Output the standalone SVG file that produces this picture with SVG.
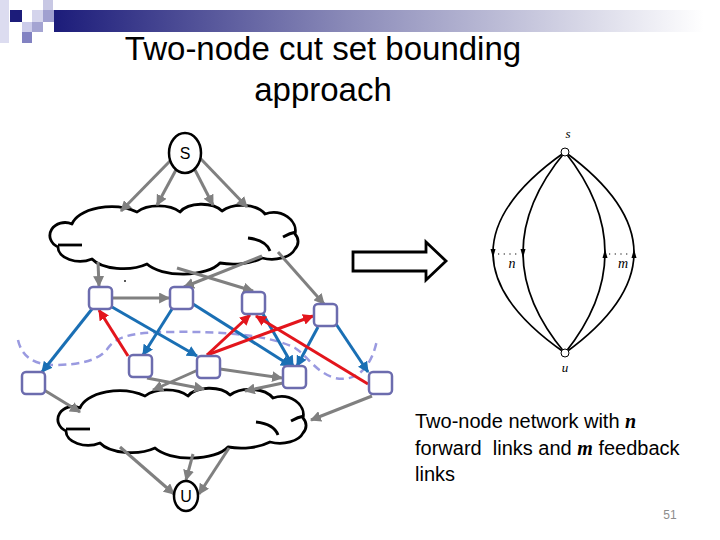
<svg xmlns="http://www.w3.org/2000/svg" width="720" height="540" viewBox="0 0 720 540">
<style>
.g{stroke:#808080;stroke-width:3;fill:none;marker-end:url(#ag)}
.b{stroke:#1a6fb4;stroke-width:3;fill:none;marker-end:url(#ab)}
.r{stroke:#e3151c;stroke-width:3;fill:none;marker-end:url(#ar)}
.sq{fill:#fff;stroke:#6c6cae;stroke-width:2.5}
.cloud{fill:#fff;stroke:#000;stroke-width:2.8;stroke-linejoin:round}
.cin{fill:none;stroke:#000;stroke-width:2.8}
.sans{font-family:"Liberation Sans",Arial,sans-serif}
.ser{font-family:"Liberation Serif","Times New Roman",serif;font-style:italic}
.thin{fill:none;stroke:#000;stroke-width:1.7}
</style>
<defs>
<linearGradient id="bar" x1="0" y1="0" x2="1" y2="0">
<stop offset="0" stop-color="#1c1c7a"/>
<stop offset="0.45" stop-color="#8a8ab8"/>
<stop offset="1" stop-color="#ffffff"/>
</linearGradient>
<marker id="ag" viewBox="0 0 10 10" refX="9" refY="5" markerWidth="11" markerHeight="11" markerUnits="userSpaceOnUse" orient="auto"><path d="M0,0 L10,5 L0,10 z" fill="#808080"/></marker>
<marker id="ab" viewBox="0 0 10 10" refX="9" refY="5" markerWidth="11" markerHeight="11" markerUnits="userSpaceOnUse" orient="auto"><path d="M0,0 L10,5 L0,10 z" fill="#1a6fb4"/></marker>
<marker id="ar" viewBox="0 0 10 10" refX="9" refY="5" markerWidth="11" markerHeight="11" markerUnits="userSpaceOnUse" orient="auto"><path d="M0,0 L10,5 L0,10 z" fill="#e3151c"/></marker>
<g id="cloudshape">
<path class="cloud" d="M 92 259 A 22 14 0 0 1 58 247 A 14 12 0 0 1 72 224 A 40 22 0 0 1 137 212 A 26 14 0 0 1 180 212 A 24 14 0 0 1 222 211 A 26 16 0 0 1 265 214 A 22 18 0 0 1 295 234 A 14 12 0 0 1 295 249 A 24 14 0 0 1 262 258 A 40 20 0 0 1 220 263 A 40 18 0 0 1 147 264 A 34 16 0 0 1 92 259 Z"/>
<path class="cin" d="M 58 245 L 82 245"/>
<path class="cin" d="M 248 238 Q 266 240 270 251"/>
<path class="cin" d="M 283 237 Q 290 233 296 232"/>
</g>
</defs>
<rect width="720" height="540" fill="#fff"/>
<rect x="0" y="0" width="9" height="43" fill="#dcdcf0"/>
<rect x="10" y="10" width="12" height="12" fill="#1c1c7a"/>
<rect x="43" y="0" width="10" height="10" fill="#c8c8e4"/>
<rect x="32" y="10" width="11" height="12" fill="#d4d4ec"/>
<rect x="43" y="10" width="11" height="12" fill="#a0a0d0"/>
<rect x="22" y="22" width="10" height="10" fill="#ccccea"/>
<rect x="32" y="22" width="11" height="10" fill="#a4a4d2"/>
<rect x="22" y="32" width="10" height="11" fill="#8282c2"/>
<rect x="54" y="10" width="650" height="22" fill="url(#bar)"/>
<text class="sans" x="323" y="60" font-size="33" text-anchor="middle" fill="#000">Two-node cut set bounding</text>
<text class="sans" x="323" y="101" font-size="33" text-anchor="middle" fill="#000">approach</text>
<use href="#cloudshape"/>
<use href="#cloudshape" transform="translate(8,184)"/>
<path d="M 18 340 C 22 358, 36 365, 55 365 C 80 365, 100 360, 108 348 C 116 336, 135 332, 170 332 C 220 331, 270 335, 295 348 C 308 356, 315 372, 335 378 C 358 383, 372 365, 377 340" fill="none" stroke="#9a9ae0" stroke-width="2.5" stroke-dasharray="8 5"/>
<circle cx="125" cy="281" r="1" fill="#222"/>
<g id="connectors">
<path class="g" d="M171 160 L121 211"/>
<path class="g" d="M177 168 L157 205"/>
<path class="g" d="M194 168 L213 205"/>
<path class="g" d="M200 158 L247 207"/>
<path class="g" d="M98 262 L99 286"/>
<path class="g" d="M262 256 L184 287"/>
<path class="g" d="M177 268 L253 291"/>
<path class="g" d="M278 252 L324 304"/>
<path class="g" d="M112 298 L169 298"/>
<path class="g" d="M44 390 L80 412"/>
<path class="g" d="M147 378 L204 389"/>
<path class="g" d="M198 370 L153 390"/>
<path class="g" d="M220 369 L282 378"/>
<path class="g" d="M283 383 L245 391"/>
<path class="g" d="M372 396 L311 420"/>
<path class="g" d="M120 447 L174 494"/>
<path class="g" d="M193 454 L186 480"/>
<path class="g" d="M229 448 L199 494"/>
<path class="b" d="M92 309 L42 372"/>
<path class="b" d="M112 307 L197 356"/>
<path class="b" d="M172 309 L143 355"/>
<path class="b" d="M193 304 L291 366"/>
<path class="b" d="M263 314 L293 366"/>
<path class="b" d="M318 327 L297 366"/>
<path class="b" d="M336 324 L368 372"/>
<path class="r" d="M128 356 L99 310"/>
<path class="r" d="M207 355 L250 315"/>
<path class="r" d="M207 355 L313 316"/>
<path class="r" d="M368 384 L256 316"/>
</g>
<g id="node-S"><ellipse cx="185" cy="153" rx="16" ry="20" fill="#fff" stroke="#000" stroke-width="2.5"/><text class="sans" x="185" y="159" font-size="16" text-anchor="middle">S</text></g>
<g id="node-U"><ellipse cx="186" cy="496" rx="12" ry="15" fill="#fff" stroke="#000" stroke-width="2.5"/><text class="sans" x="186" y="502" font-size="16" text-anchor="middle">U</text></g>
<g id="node-A"><rect class="sq" x="89" y="287" width="23" height="22" rx="4"/></g>
<g id="node-B"><rect class="sq" x="170" y="287" width="23" height="22" rx="4"/></g>
<g id="node-C"><rect class="sq" x="242" y="292" width="23" height="22" rx="4"/></g>
<g id="node-D"><rect class="sq" x="314" y="304" width="23" height="22" rx="4"/></g>
<g id="node-E"><rect class="sq" x="22" y="372" width="23" height="22" rx="4"/></g>
<g id="node-F"><rect class="sq" x="129" y="355" width="23" height="22" rx="4"/></g>
<g id="node-G"><rect class="sq" x="197" y="356" width="23" height="22" rx="4"/></g>
<g id="node-H"><rect class="sq" x="283" y="366" width="23" height="22" rx="4"/></g>
<g id="node-I"><rect class="sq" x="369" y="372" width="23" height="22" rx="4"/></g>
<path d="M353 252 L426 252 L426 242 L446 261 L426 280 L426 271 L353 271 Z" fill="#fff" stroke="#000" stroke-width="2.8" stroke-linejoin="miter"/>
<g id="two-node">
<path class="thin" d="M565 152 Q 421 253 565 353"/>
<path class="thin" d="M565 152 Q 481 253 565 353"/>
<path class="thin" d="M565 152 Q 645 253 565 353"/>
<path class="thin" d="M565 152 Q 703 253 565 353"/>
<polygon points="490.5,249 495.5,249 493,258" fill="#000"/>
<polygon points="520.5,249 525.5,249 523,258" fill="#000"/>
<polygon points="602.5,258 607.5,258 605,249" fill="#000"/>
<polygon points="631.5,258 636.5,258 634,249" fill="#000"/>
<path d="M498 254 L520 254" stroke="#000" stroke-width="1.2" stroke-dasharray="1.2 4.5"/>
<path d="M609 254 L631 254" stroke="#000" stroke-width="1.2" stroke-dasharray="1.2 4.5"/>
<circle cx="565" cy="152" r="4" fill="#fff" stroke="#000" stroke-width="1"/>
<circle cx="565" cy="353" r="4" fill="#fff" stroke="#000" stroke-width="1"/>
<text class="ser" x="568" y="138" font-size="13" text-anchor="middle">s</text>
<text class="ser" x="565" y="372" font-size="13" text-anchor="middle">u</text>
<text class="ser" x="512" y="268" font-size="14" text-anchor="middle">n</text>
<text class="ser" x="623" y="268" font-size="14" text-anchor="middle">m</text>
</g>
<text class="sans" x="415" y="428" font-size="20" fill="#000">Two-node network with <tspan font-family="Liberation Serif,serif" font-style="italic" font-weight="bold">n</tspan></text>
<text class="sans" x="415" y="455" font-size="20" fill="#000" style="white-space:pre">forward  links and <tspan font-family="Liberation Serif,serif" font-style="italic" font-weight="bold">m</tspan> feedback</text>
<text class="sans" x="415" y="481" font-size="20" fill="#000">links</text>
<text class="sans" x="670" y="519" font-size="12" fill="#8c8c8c" text-anchor="middle">51</text>
</svg>
